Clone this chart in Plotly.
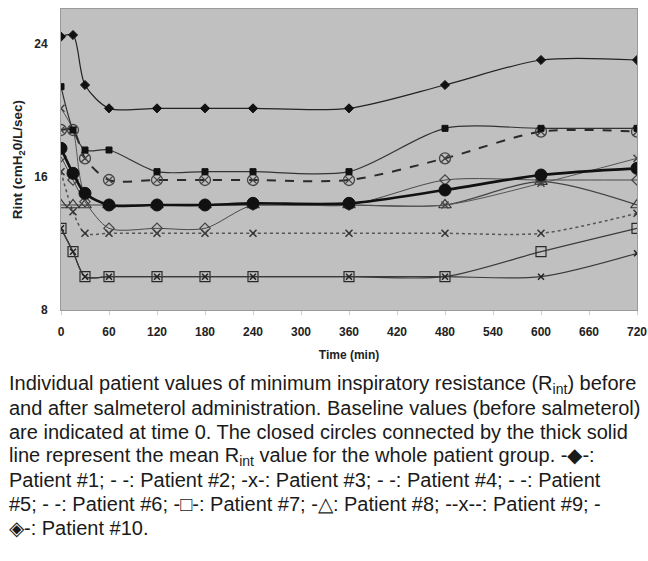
import plotly.graph_objects as go

# ---- data ----
times = [0, 15, 30, 60, 120, 180, 240, 360, 480, 600, 720]
patient1 = [24.4, 24.5, 21.5, 20.1, 20.1, 20.1, 20.1, 20.1, 21.5, 23.0, 23.0]
patient2 = [21.4, 18.8, 17.6, 17.6, 16.3, 16.3, 16.3, 16.3, 18.9, 18.9, 18.9]
patient3 = [20.1, 18.8, 15.0, 14.3, 14.3, 14.3, 14.3, 14.3, 14.3, 15.6, 17.1]
patient5 = [17.2, 15.8, 14.5, 12.9, 12.9, 12.9, 14.3, 14.3, 15.8, 15.8, 15.8]
patient7 = [12.9, 11.5, 10.0, 10.0, 10.0, 10.0, 10.0, 10.0, 10.0, 11.5, 12.9]
patient8 = [14.3, 14.3, 14.3, 14.3, 14.3, 14.3, 14.3, 14.3, 14.3, 15.7, 14.3]
patient6 = [12.9, 11.5, 10.0, 10.0, 10.0, 10.0, 10.0, 10.0, 10.0, 10.0, 11.4]
patient9 = [16.3, 13.9, 12.6, 12.6, 12.6, 12.6, 12.6, 12.6, 12.6, 12.6, 13.8]
patient10 = [18.8, 18.8, 17.1, 15.8, 15.8, 15.8, 15.8, 15.8, 17.1, 18.7, 18.7]
mean_all = [17.7, 16.2, 15.0, 14.3, 14.3, 14.3, 14.4, 14.4, 15.2, 16.1, 16.5]

x_ticks = [0, 60, 120, 180, 240, 300, 360, 420, 480, 540, 600, 660, 720]
y_ticks = [8, 16, 24]

caption_lines = [
    "Individual patient values of minimum inspiratory resistance (R<sub>int</sub>) before",
    "and after salmeterol administration. Baseline values (before salmeterol)",
    "are indicated at time 0. The closed circles connected by the thick solid",
    "line represent the mean R<sub>int</sub> value for the whole patient group. -◆-:",
    "Patient #1; - -: Patient #2; -x-: Patient #3; - -: Patient #4; - -: Patient",
    "#5; - -: Patient #6; -□-: Patient #7; -△: Patient #8; --x--: Patient #9; -",
    "◈-: Patient #10.",
]

fig = go.Figure()


def add(y, name, color, width, dash, symbol, size, mcolor=None, mline=1):
    fig.add_trace(go.Scatter(
        x=times, y=y, name=name, mode="lines+markers",
        line=dict(color=color, width=width, dash=dash, shape="spline", smoothing=0.8),
        marker=dict(symbol=symbol, size=size, color=mcolor or color,
                    line=dict(color=mcolor or color, width=mline)),
        showlegend=False,
    ))


add(patient7, "Patient 7", "#3a3a3a", 1.2, "solid", "square-open", 10, "#2a2a2a", 1.2)
add(patient6, "Patient 6", "#3a3a3a", 1.2, "solid", "x-thin-open", 6, "#222222", 1.5)
add(patient9, "Patient 9", "#555555", 1.5, "dot", "x-thin-open", 7, "#333333", 1.5)
add(patient8, "Patient 8", "#444444", 1.2, "solid", "triangle-up-open", 11, "#333333", 1.2)
add(patient5, "Patient 5", "#4a4a4a", 1.0, "solid", "diamond-open", 8, "#444444", 1.2)
add(patient3, "Patient 3", "#555555", 1.0, "solid", "x-thin-open", 7, "#444444", 1.5)
add(patient10, "Patient 10", "#2a2a2a", 2.0, "dash", "circle-x-open", 11, "#444444", 1.3)
add(patient2, "Patient 2", "#333333", 1.2, "solid", "square", 6, "#111111", 1)
add(patient1, "Patient 1", "#222222", 1.2, "solid", "diamond", 7, "#111111", 1)
add(mean_all, "Mean", "#111111", 2.6, "solid", "circle", 12, "#111111", 1)

axis_font = dict(family="Arial, Liberation Sans, sans-serif", size=12, color="#222222")
ytitle_font = dict(family="Arial, Liberation Sans, sans-serif", size=13.5, color="#222222")

fig.update_layout(
    width=648, height=561,
    margin=dict(l=61, r=11, t=9, b=251),
    paper_bgcolor="white",
    plot_bgcolor="#c0c0c0",
    font=axis_font,
    xaxis=dict(
        range=[0, 720], tickvals=x_ticks, ticktext=[f"<b>{t}</b>" for t in x_ticks],
        showgrid=False, zeroline=False, showline=True, linecolor="#9a9a9a",
        linewidth=1, mirror=True, ticks="outside", ticklen=4, tickcolor="#cccccc",
        ticklabelstandoff=7, ticklabeloverflow="allow", automargin=False,
        title=dict(text="<b>Time (min)</b>", font=axis_font, standoff=12),
    ),
    yaxis=dict(
        range=[8, 26.06], tickvals=y_ticks, ticktext=[f"<b>{t}</b>" for t in y_ticks],
        showgrid=False, zeroline=False, showline=True, linecolor="#9a9a9a",
        linewidth=1, mirror=True, ticks="", ticklabelstandoff=10,
        ticklabeloverflow="allow", automargin=False,
        title=dict(text="<b>Rint (cmH<sub>2</sub>0/L/sec)</b>", font=ytitle_font, standoff=8),
    ),
)

cap_font = dict(family="Arial, Liberation Sans, sans-serif", size=20, color="#1a1a1a")
for i, line in enumerate(caption_lines):
    fig.add_annotation(
        text=line, xref="paper", yref="paper", x=(8 - 61) / 576, y=1,
        xanchor="left", yanchor="middle", showarrow=False, font=cap_font,
        borderpad=0, yshift=-(384 - 9) - i * 24,
    )

fig.write_html(
    "out.html",
    config={"displayModeBar": False},
    post_script="document.body.style.margin='0';document.body.style.overflow='hidden';",
)
